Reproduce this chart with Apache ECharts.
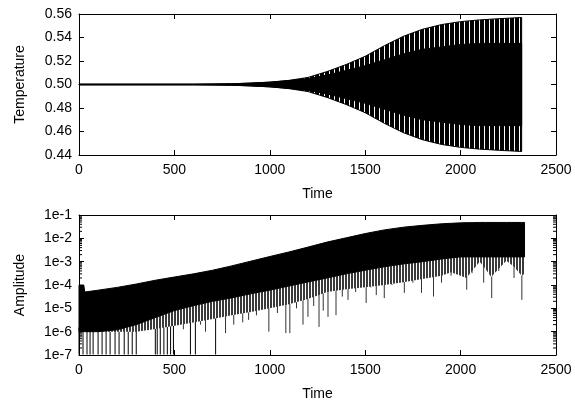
<!DOCTYPE html>
<html>
<head>
<meta charset="utf-8">
<script src="https://cdn.jsdelivr.net/npm/echarts@6/dist/echarts.min.js"></script>
<style>
html,body{margin:0;padding:0;background:#fff;}
#chart{width:575px;height:403px;}
</style>
</head>
<body>
<div id="chart"></div>
<script>
// Temperature: envelope of the fast oscillation (outer = streaky edge, inner = solid black)
var tempT          = [0, 600, 800, 900, 1000, 1100, 1200, 1300, 1400, 1500, 1600, 1700, 1800, 1900, 2000, 2100, 2200, 2320];
var tempUpper      = [0.5003, 0.5003, 0.5006, 0.5012, 0.502, 0.5035, 0.506, 0.511, 0.517, 0.524, 0.533, 0.541, 0.547, 0.551, 0.5535, 0.555, 0.556, 0.557];
var tempLower      = [0.4997, 0.4997, 0.4994, 0.4988, 0.498, 0.4965, 0.494, 0.489, 0.483, 0.476, 0.467, 0.459, 0.453, 0.449, 0.4465, 0.445, 0.444, 0.443];
var tempInnerUpper = [0.5003, 0.5003, 0.5006, 0.5012, 0.502, 0.5033, 0.505, 0.508, 0.512, 0.516, 0.521, 0.526, 0.530, 0.532, 0.534, 0.535, 0.535, 0.535];
var tempInnerLower = [0.4997, 0.4997, 0.4994, 0.4988, 0.498, 0.4967, 0.495, 0.492, 0.488, 0.484, 0.479, 0.474, 0.470, 0.468, 0.466, 0.465, 0.465, 0.465];

// Amplitude: solid black band, grey fringe below it
var ampT      = [0, 25, 30, 100, 200, 300, 400, 500, 600, 700, 800, 900, 1000, 1100, 1200, 1300, 1400, 1500, 1600, 1700, 1800, 1900, 1950, 2000, 2030, 2060, 2100, 2130, 2160, 2200, 2240, 2280, 2320, 2335];
var ampUpper  = [1.0e-4, 1.0e-4, 5.0e-5, 6.0e-5, 7.9e-5, 1.1e-4, 1.6e-4, 2.2e-4, 3.0e-4, 4.3e-4, 6.6e-4, 1.05e-3, 1.66e-3, 2.6e-3, 4.2e-3, 6.9e-3, 1.05e-2, 1.6e-2, 2.3e-2, 3.0e-2, 3.6e-2, 4.2e-2, 4.4e-2, 4.6e-2, 4.7e-2, 4.7e-2, 4.8e-2, 4.8e-2, 4.8e-2, 4.8e-2, 4.8e-2, 4.8e-2, 4.8e-2, 4.8e-2];
var ampLower  = [1.0e-6, 1.0e-6, 1.0e-6, 1.0e-6, 1.2e-6, 2.0e-6, 4.0e-6, 8.0e-6, 1.3e-5, 2.0e-5, 2.8e-5, 4.2e-5, 6.0e-5, 9.0e-5, 1.35e-4, 2.0e-4, 3.0e-4, 4.3e-4, 6.0e-4, 8.0e-4, 1.0e-3, 1.3e-3, 1.45e-3, 1.6e-3, 1.6e-3, 1.6e-3, 1.6e-3, 1.6e-3, 1.6e-3, 1.6e-3, 1.6e-3, 1.6e-3, 1.6e-3, 1.6e-3];
var ampFringe = [1.0e-6, 1.0e-6, 1.0e-6, 1.0e-6, 1.0e-6, 1.0e-6, 1.3e-6, 1.8e-6, 2.5e-6, 3.5e-6, 5.0e-6, 7.0e-6, 1.0e-5, 1.5e-5, 2.5e-5, 5.0e-5, 6.5e-5, 8.0e-5, 1.0e-4, 1.3e-4, 1.8e-4, 2.5e-4, 3.5e-4, 2.5e-4, 2.0e-4, 4.0e-4, 1.0e-3, 5.0e-4, 2.2e-4, 5.0e-4, 1.1e-3, 6.0e-4, 2.5e-4, 3.0e-4];

// deep downward spikes (time, lowest value)
var dipT = [0, 21, 42, 58, 74, 100, 121, 142, 163, 189, 210, 237, 258, 279, 300, 400, 410, 426, 445, 463, 480, 495, 520, 547, 584, 610, 637, 663, 716, 768, 811, 858, 889, 930, 995, 1040, 1084, 1105, 1140, 1174, 1200, 1230, 1258, 1280, 1305, 1347, 1380, 1410, 1450, 1505, 1530, 1558, 1600, 1640, 1674, 1705, 1750, 1795, 1830, 1858, 1900, 1950, 1980, 2032, 2060, 2121, 2163, 2200, 2280, 2321];
var dipV = [1.05e-7, 1.05e-7, 1.05e-7, 1.05e-7, 1.05e-7, 1.05e-7, 1.05e-7, 1.05e-7, 1.05e-7, 1.05e-7, 1.05e-7, 1.05e-7, 1.05e-7, 1.05e-7, 1.05e-7, 1.05e-7, 1.05e-7, 1.05e-7, 1.05e-7, 1.05e-7, 1.05e-7, 1.05e-7, 2.5e-6, 1.26e-6, 1.05e-7, 1.05e-7, 2.0e-6, 1.0e-6, 1.05e-7, 8.7e-7, 2.0e-6, 2.5e-6, 3.2e-6, 5.0e-6, 1.0e-6, 6.3e-6, 8.7e-7, 8.7e-7, 1.0e-5, 2.0e-6, 4.3e-6, 1.26e-5, 1.6e-6, 8.0e-6, 4.3e-6, 5.1e-6, 3.2e-5, 2.3e-5, 5.0e-5, 1.7e-5, 7.9e-5, 3.7e-5, 2.75e-5, 1.0e-4, 1.26e-4, 4.6e-5, 1.26e-4, 4.6e-5, 2.0e-4, 3.2e-5, 1.26e-4, 2.5e-4, 3.6e-4, 6.3e-5, 3.2e-4, 1.26e-4, 2.75e-5, 4.0e-4, 2.0e-4, 2.3e-5];

// minor ticks of the log axis
var minorTickVals = [];
[1e-7, 1e-6, 1e-5, 1e-4, 1e-3, 1e-2].forEach(function (d) {
    [2, 3, 4, 5, 6, 7, 8, 9].forEach(function (m) { minorTickVals.push(m * d); });
});

var FONT = 'Liberation Sans';
var FS = 14;
var TMIN = 0, TMAX = 2500;

// vertical stripe pattern to mimic the dense oscillation lines
function stripes(w, darkW, dark) {
    var c = document.createElement('canvas');
    c.width = w; c.height = 4;
    var g = c.getContext('2d');
    g.fillStyle = '#fff'; g.fillRect(0, 0, w, 4);
    g.fillStyle = dark; g.fillRect(0, 0, darkW, 4);
    return { image: c, repeat: 'repeat' };
}

function bandRender(tArr, upArr, lowArr, fill, stroke) {
    return function (params, api) {
        if (params.dataIndex !== 0) return;
        var pts = [];
        for (var i = 0; i < tArr.length; i++) pts.push(api.coord([tArr[i], upArr[i]]));
        for (var j = tArr.length - 1; j >= 0; j--) pts.push(api.coord([tArr[j], lowArr[j]]));
        return {
            type: 'polygon',
            shape: { points: pts },
            style: { fill: fill, stroke: stroke, lineWidth: 1 }
        };
    };
}

// a spike runs from its lowest value up into the black band
function dipRender(params, api) {
    var t = api.value(0), v = api.value(1);
    var k = 0;
    while (k < ampT.length - 1 && ampT[k + 1] <= t) k++;
    var top = api.coord([t, ampLower[k] * 1.5]);
    var bot = api.coord([t, v]);
    return {
        type: 'line',
        shape: { x1: bot[0], y1: bot[1], x2: top[0], y2: top[1] },
        style: { stroke: v < 2e-7 ? '#000' : '#333', lineWidth: 1 }
    };
}

function minorTickRender(params, api) {
    var v = api.value(1);
    var l = api.coord([TMIN, v]), r = api.coord([TMAX, v]);
    return {
        type: 'group',
        children: [
            { type: 'line', shape: { x1: l[0], y1: l[1], x2: l[0] + 3, y2: l[1] }, style: { stroke: '#000', lineWidth: 1 } },
            { type: 'line', shape: { x1: r[0] - 3, y1: r[1], x2: r[0], y2: r[1] }, style: { stroke: '#000', lineWidth: 1 } }
        ]
    };
}

function xAx(grid, pos) {
    return {
        gridIndex: grid, type: 'value', position: pos, min: TMIN, max: TMAX, interval: 500,
        name: pos === 'bottom' ? 'Time' : '', nameLocation: 'middle', nameGap: 32,
        nameTextStyle: { color: '#000', fontSize: FS, fontFamily: FONT },
        axisLine: { onZero: false, lineStyle: { color: '#000', width: 1 } },
        axisTick: { inside: true, length: 5, lineStyle: { color: '#000' } },
        axisLabel: { show: pos === 'bottom', color: '#000', fontSize: FS, fontFamily: FONT, margin: 8,
            formatter: function (v) { return String(v); } },
        splitLine: { show: false }
    };
}

function yAx(grid, pos, extra) {
    var a = {
        gridIndex: grid, position: pos, nameLocation: 'middle', nameGap: 52,
        nameTextStyle: { color: '#000', fontSize: FS, fontFamily: FONT },
        axisLine: { onZero: false, lineStyle: { color: '#000', width: 1 } },
        axisTick: { inside: true, length: 5, lineStyle: { color: '#000' } },
        axisLabel: { show: pos === 'left', color: '#000', fontSize: FS, fontFamily: FONT, margin: 7 },
        splitLine: { show: false }
    };
    for (var k in extra) a[k] = extra[k];
    if (pos !== 'left') a.name = '';
    return a;
}

var chart = echarts.init(document.getElementById('chart'));

var yTempL = yAx(0, 'left', { type: 'value', min: 0.44, max: 0.56, interval: 0.02, name: 'Temperature' });
yTempL.axisLabel.formatter = function (v) { return v.toFixed(2); };
var yTempR = yAx(0, 'right', { type: 'value', min: 0.44, max: 0.56, interval: 0.02 });
var yAmpL = yAx(1, 'left', { type: 'log', logBase: 10, min: 1e-7, max: 1e-1, name: 'Amplitude' });
yAmpL.axisLabel.formatter = function (v) { return '1e' + Math.round(Math.log10(v)); };
var yAmpR = yAx(1, 'right', { type: 'log', logBase: 10, min: 1e-7, max: 1e-1 });

var option = {
    animation: false,
    backgroundColor: '#fff',
    grid: [
        { left: 79, top: 14, width: 477, height: 141 },
        { left: 79, top: 215, width: 477, height: 140 }
    ],
    xAxis: [xAx(0, 'bottom'), xAx(0, 'top'), xAx(1, 'bottom'), xAx(1, 'top')],
    yAxis: [yTempL, yTempR, yAmpL, yAmpR],
    series: [
        {
            type: 'custom', xAxisIndex: 0, yAxisIndex: 0, silent: true, z: 2,
            renderItem: bandRender(tempT, tempUpper, tempLower, stripes(5, 4, '#000'), '#000'),
            data: [[tempT[0], tempUpper[0]]]
        },
        {
            type: 'custom', xAxisIndex: 0, yAxisIndex: 0, silent: true, z: 3,
            renderItem: bandRender(tempT, tempInnerUpper, tempInnerLower, '#000', '#000'),
            data: [[tempT[0], tempInnerUpper[0]]]
        },
        {
            type: 'custom', xAxisIndex: 2, yAxisIndex: 2, silent: true, z: 1,
            renderItem: dipRender,
            data: dipT.map(function (t, i) { return [t, dipV[i]]; })
        },
        {
            type: 'custom', xAxisIndex: 2, yAxisIndex: 2, silent: true, z: 2,
            renderItem: bandRender(ampT, ampLower, ampFringe, stripes(3, 2, '#3a3a3a'), null),
            data: [[ampT[0], ampUpper[0]]]
        },
        {
            type: 'custom', xAxisIndex: 2, yAxisIndex: 2, silent: true, z: 3,
            renderItem: bandRender(ampT, ampUpper, ampLower, '#000', '#000'),
            data: [[ampT[0], ampUpper[0]]]
        },
        {
            type: 'custom', xAxisIndex: 2, yAxisIndex: 2, silent: true, z: 4,
            renderItem: minorTickRender,
            data: minorTickVals.map(function (v) { return [TMIN, v]; })
        }
    ]
};
chart.setOption(option);
</script>
</body>
</html>
